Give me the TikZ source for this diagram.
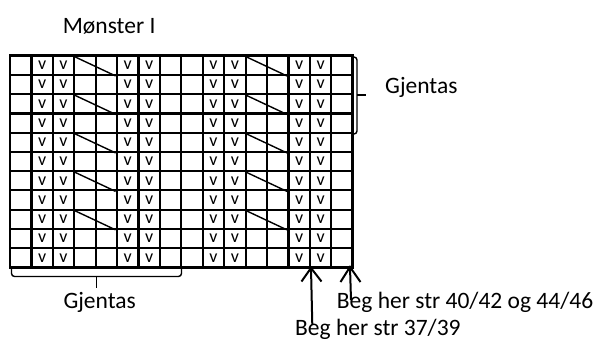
\documentclass[tikz,border=0pt]{standalone}
\usepackage{fontspec}
\setmainfont{Carlito}
\begin{document}
\begin{tikzpicture}[x=1pt,y=-1pt,
  gridline/.style={line width=2.2pt,black},
  border/.style={line width=2.6pt,black},
  vmark/.style={inner sep=0pt,font=\fontsize{18}{20}\selectfont},
  diag/.style={line width=1.4pt,black},
  brace/.style={line width=1.4pt,black,rounded corners=3pt},
  arrowline/.style={line width=2pt,black},
  lbl/.style={inner sep=0pt,anchor=base west,font=\fontsize{23.5}{27}\selectfont}]
\fill[white] (0,0) rectangle (600,341);
\useasboundingbox (0,0) rectangle (600,341);
\def\cw{21.42}
\def\rh{19.24}
\def\gx{10}
\def\gy{55.7}
% grid
\foreach \i in {1,...,15}
  \draw[gridline] ({\gx+\i*\cw},\gy) -- ({\gx+\i*\cw},{\gy+11*\rh});
\foreach \j in {1,...,10}
  \draw[gridline] (\gx,{\gy+\j*\rh}) -- ({\gx+16*\cw},{\gy+\j*\rh});
\draw[border] (\gx,\gy) rectangle ({\gx+16*\cw},{\gy+11*\rh});
% v marks
\foreach \c in {2,3,6,7,10,11,14,15}
  \foreach \r in {1,...,11}
    \node[vmark] (v-\c-\r) at ({\gx+(\c-0.5)*\cw},{\gy+(\r-0.5)*\rh}) {v};
% diagonals
\foreach \r in {1,3,5,7,9}
  \foreach \c in {4,12}
    \draw[diag] ({\gx+(\c-1)*\cw},{\gy+(\r-1)*\rh+0.8}) -- ({\gx+(\c+1)*\cw-1.5},{\gy+\r*\rh+1});
% right brace
\draw[brace] (352.5,57) -- (357,57) -- (357,134) -- (352.5,134);
\draw[brace] (357,95) -- (366,95);
% bottom brace
\draw[brace] (11.5,268) -- (11.5,276.5) -- (181.5,276.5) -- (181.5,268);
\draw[brace] (96.7,276.5) -- (96.7,288);
% arrows
\coordinate (t1) at (311,268);
\coordinate (b1) at (312.3,325);
\coordinate (t2) at (350,267);
\coordinate (b2) at (351,300);
\draw[arrowline] (b1) -- (t1);
\draw[arrowline] ([shift={(-9.5,13.5)}]t1) -- (t1) -- ([shift={(10.5,13.5)}]t1);
\draw[arrowline] (b2) -- (t2);
\draw[arrowline] ([shift={(-9.5,15)}]t2) -- (t2) -- ([shift={(10.5,15)}]t2);
% labels
\node[lbl] (title) at (62.7,33.3) {Mønster I};
\node[lbl] (gjr) at (385,93.3) {Gjentas};
\node[lbl] (gjb) at (63.3,308.3) {Gjentas};
\node[lbl] (beg1) at (336.7,308) {Beg her str 40/42 og 44/46};
\node[lbl] (beg2) at (295,335.7) {Beg her str 37/39};
\end{tikzpicture}
\end{document}
